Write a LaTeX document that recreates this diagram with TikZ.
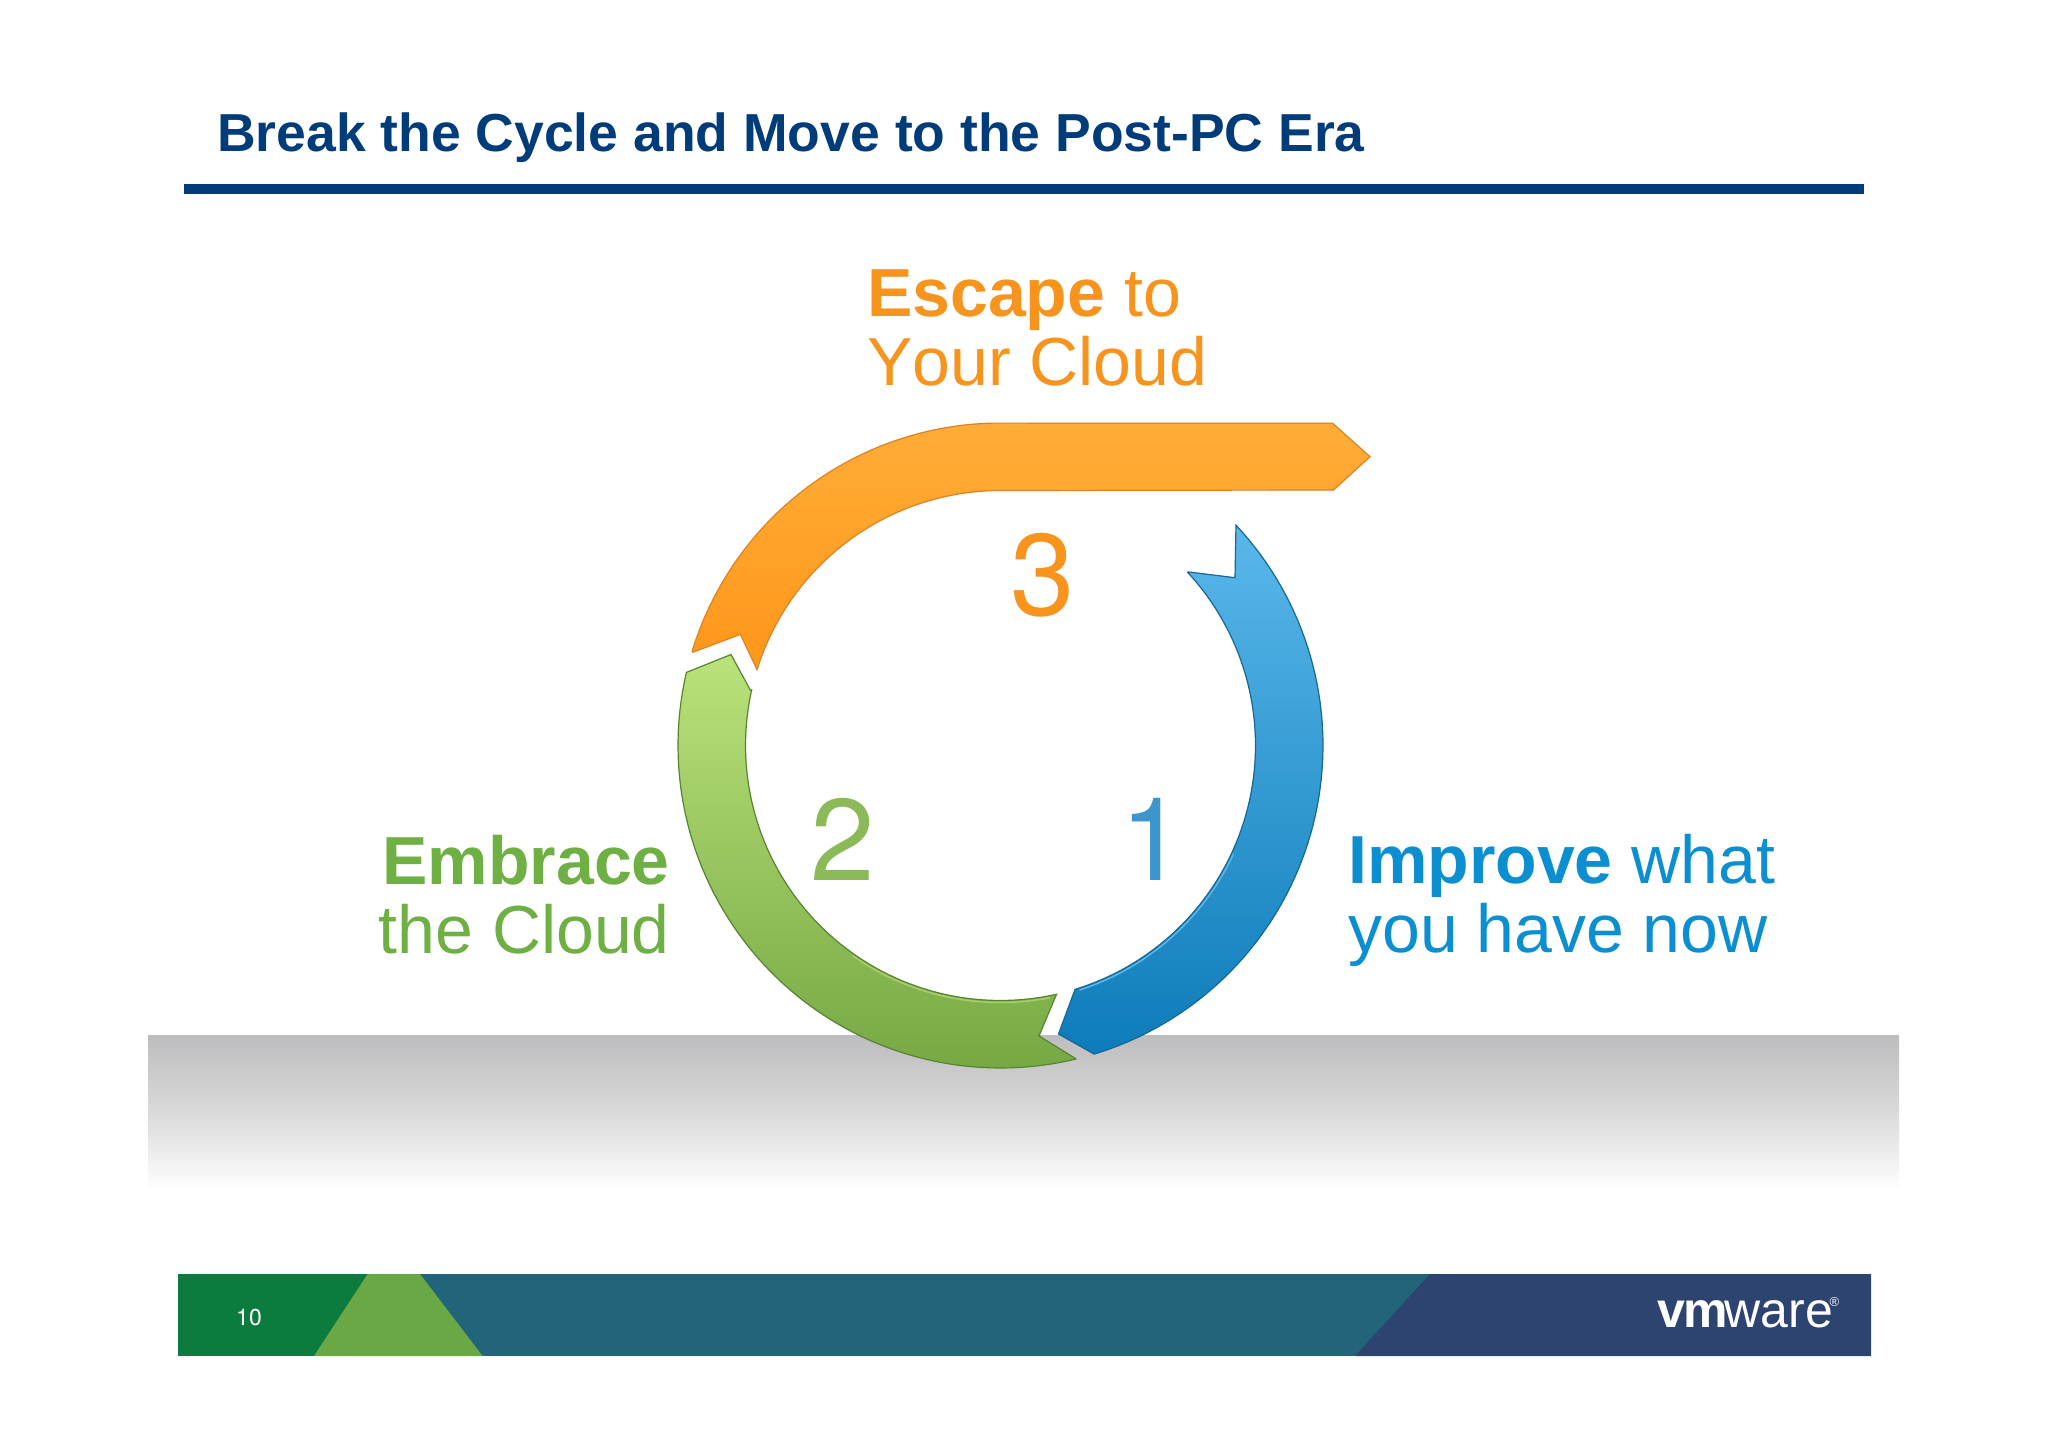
\documentclass[tikz,border=0pt]{standalone}
\usepackage{fontspec}
\setmainfont{Liberation Sans}
\newfontfamily\digitface{TeX Gyre Heros}
\usetikzlibrary{fadings}
\definecolor{titleblue}{HTML}{003C7A}
\definecolor{escorange}{HTML}{F7941E}
\definecolor{embgreen}{HTML}{6FB044}
\definecolor{impblue}{HTML}{0B8FD0}
\definecolor{foot1}{HTML}{0B7B3E}
\definecolor{foot2}{HTML}{6AA846}
\definecolor{foot3}{HTML}{22657A}
\definecolor{foot4}{HTML}{2D4370}
\newcommand{\bigfont}{\fontsize{68}{69}\selectfont}
\newcommand{\digitfont}{\digitface\fontsize{116}{116}\selectfont}
\begin{tikzfadingfrompicture}[name=fadetwo]
\node[text=transparent!0,inner sep=0,font=\digitfont] {2};
\end{tikzfadingfrompicture}
\begin{tikzfadingfrompicture}[name=fadeone]
\node[text=transparent!0,inner sep=0,font=\digitfont] {1};
\end{tikzfadingfrompicture}
\tikzset{
  biglabel/.style={inner sep=0,font=\bigfont,align=left},
  digit/.style={inner sep=0,font=\digitfont},
  ringcurve/.style={samples=70},
  bevel/.style={line width=1.5pt,line cap=round},
}
\begin{document}
\begin{tikzpicture}[x=1pt,y=-1pt]
\useasboundingbox (0,0) rectangle (2048,1447);
\fill[white] (0,0) rectangle (2048,1447);
% title
\node[anchor=base west,inner sep=0,text=titleblue,font=\fontsize{53.5}{54}\selectfont\bfseries] (title) at (217,152) {Break the Cycle and Move to the Post-PC Era};
\fill[titleblue] (183.5,184) rectangle (1864,194);
% floor
\shade[top color={rgb,255:red,189;green,188;blue,190},bottom color=white,middle color={rgb,255:red,218;green,218;blue,219}] (148,1035) rectangle (1899,1190);
% arrows
\shadedraw[top color={rgb,255:red,90;green,183;blue,234},bottom color={rgb,255:red,13;green,124;blue,186},draw={rgb,255:red,22;green,104;blue,146},line width=1.2pt,line join=miter]
  (1094,1054) -- plot[ringcurve,domain=-73.1:43.1] ({1000.5+322.5*cos(\x)},{745.5-322.5*sin(\x)}) -- (1235,577.7) -- (1188,571.9) -- plot[ringcurve,domain=42.8:-73] ({1000.5+255*cos(\x)},{745.5-255*sin(\x)}) -- (1058.5,1034) -- cycle;
\draw[bevel,color={rgb,255:red,92;green,182;blue,232}] plot[ringcurve,domain=-72:-25] ({1000.5+257*cos(\x)},{745.5-257*sin(\x)});
\shadedraw[top color={rgb,255:red,186;green,226;blue,122},middle color={rgb,255:red,136;green,190;blue,84},bottom color={rgb,255:red,118;green,168;blue,68},draw={rgb,255:red,88;green,132;blue,48},line width=1.2pt,line join=miter]
  (1075.5,1058.5) -- plot[ringcurve,domain=283.5:166.9] ({1000.5+322.5*cos(\x)},{745.5-322.5*sin(\x)}) -- (731,654.5) -- (750.4,690.2) -- plot[ringcurve,domain=167.4:282.7] ({1000.5+255*cos(\x)},{745.5-255*sin(\x)}) -- (1039,1036) -- cycle;
\draw[bevel,color={rgb,255:red,170;green,205;blue,110}] plot[ringcurve,domain=235:281] ({1000.5+257*cos(\x)},{745.5-257*sin(\x)});
\shadedraw[top color={rgb,255:red,255;green,173;blue,56},bottom color={rgb,255:red,255;green,150;blue,26},draw={rgb,255:red,222;green,130;blue,36},line width=1.2pt,line join=miter]
  (693,652.2) -- plot[ringcurve,domain=163:91.6] ({1000.5+322.5*cos(\x)},{745.5-322.5*sin(\x)}) -- (1332.6,423.2) -- (1370,456.7) -- (1333.5,490) -- (990.6,490.5) -- plot[ringcurve,domain=91.6:162.7] ({1000.5+255*cos(\x)},{745.5-255*sin(\x)}) -- (740.4,634.4) -- cycle;
% labels
\node[biglabel,anchor=west,text=escorange] (escape) at (867,327.5) {\textbf{Escape} to\\Y\kern0pt our Cloud};
\node[biglabel,anchor=east,align=right,text=embgreen] (embrace) at (670,894.5) {\textbf{Embrace}\\the Cloud};
\node[biglabel,anchor=west,text=impblue] (improve) at (1348,900) {\textbf{Improve} what\\you have now};
% digits
\node[digit,anchor=base,text=escorange] (three) at (1043,615.5) {3};
\node[digit,anchor=base,text={rgb,255:red,140;green,186;blue,88}] (two) at (843,880) {2};
\node[digit,anchor=base,text={rgb,255:red,60;green,150;blue,205}] (one) at (1153,880) {1};
\fill[path fading=fadetwo,fit fading=false,top color={rgb,255:red,172;green,212;blue,106},bottom color={rgb,255:red,122;green,168;blue,72}] (two.south west) rectangle (two.north east);
\fill[path fading=fadeone,fit fading=false,top color={rgb,255:red,84;green,176;blue,228},bottom color={rgb,255:red,36;green,134;blue,188}] (one.south west) rectangle (one.north east);
% footer
\fill[foot1] (178,1274) rectangle (400,1356);
\fill[foot3] (400,1274) rectangle (1440,1356);
\fill[foot2] (367.6,1274) -- (420,1274) -- (482.6,1356) -- (314,1356) -- cycle;
\fill[foot4] (1430,1274) -- (1871,1274) -- (1871,1356) -- (1355,1356) -- cycle;
\node[inner sep=0,text=white,font=\digitface\fontsize{23}{23}\selectfont] (pageno) at (249,1318) {10};
\node[anchor=base west,inner sep=0,text=white,font=\fontsize{50}{50}\selectfont] (logo) at (1657,1327) {\textbf{v\kern-2pt m}\kern-3pt ware};
\node[anchor=center,inner sep=0,text=white,font=\fontsize{13}{13}\selectfont] (reg) at (1834.5,1302) {®};
\end{tikzpicture}
\end{document}
